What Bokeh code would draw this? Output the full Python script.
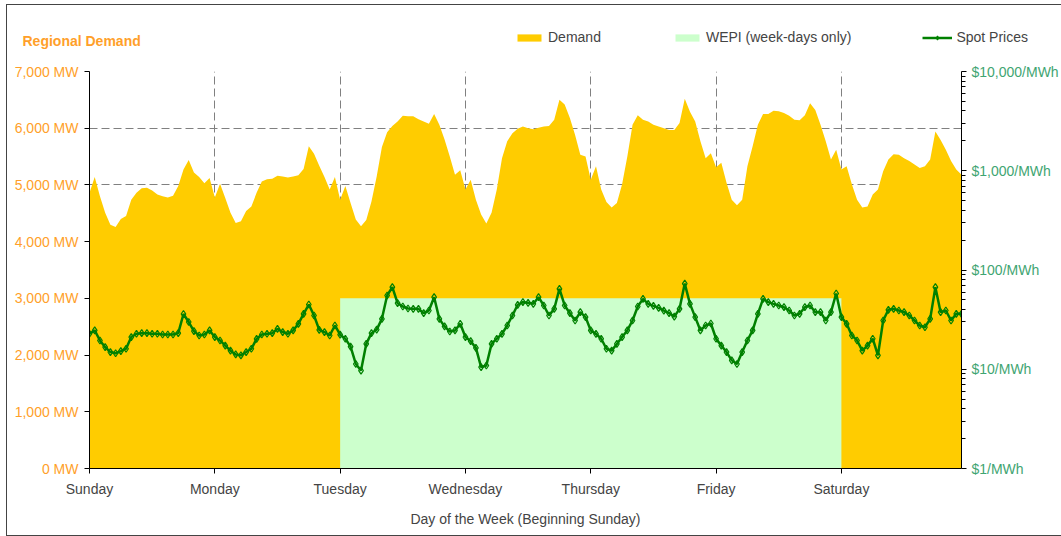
import numpy as np
from bokeh.plotting import figure
from bokeh.layouts import column
from bokeh.models import (Range1d, LogScale, LogAxis, FixedTicker, Legend, LegendItem, Label,
                          ColumnDataSource)
from bokeh.embed import file_html
from bokeh.resources import INLINE

# ---------------- data (hourly readings) ----------------
day_names = ["Sunday", "Monday", "Tuesday", "Wednesday", "Thursday", "Friday", "Saturday"]

demand_sun = [4860, 5140, 4800, 4510, 4300, 4260, 4400, 4450, 4740, 4860, 4940, 4950,
              4900, 4830, 4800, 4780, 4810, 4980, 5270, 5440, 5220, 5140, 5030, 5120]
demand_mon = [4780, 5020, 4770, 4510, 4330, 4360, 4540, 4620, 4860, 5060, 5100, 5110,
              5160, 5150, 5130, 5150, 5170, 5280, 5680, 5550, 5340, 5140, 4920, 5140]
demand_tue = [4740, 4980, 4680, 4390, 4270, 4380, 4710, 5150, 5670, 5930, 6040, 6120,
              6220, 6210, 6210, 6160, 6120, 6080, 6250, 6060, 5800, 5500, 5180, 5260]
demand_wed = [4920, 5090, 4740, 4480, 4320, 4510, 4920, 5470, 5770, 5910, 5990, 6030,
              6000, 5980, 6010, 6030, 6040, 6150, 6500, 6420, 6180, 5880, 5530, 5500]
demand_thu = [5090, 5330, 4920, 4700, 4600, 4680, 5010, 5500, 6060, 6230, 6150, 6120,
              6060, 6030, 6000, 5970, 5970, 6090, 6520, 6290, 6120, 5770, 5470, 5560]
demand_fri = [5310, 5390, 5040, 4740, 4640, 4740, 5330, 5680, 6060, 6250, 6250, 6310,
              6300, 6270, 6220, 6150, 6140, 6230, 6440, 6320, 6060, 5770, 5450, 5620]
demand_sat = [5270, 5330, 5010, 4740, 4600, 4620, 4830, 4920, 5240, 5450, 5540, 5530,
              5470, 5420, 5360, 5300, 5330, 5450, 5940, 5790, 5620, 5420, 5270, 5180]

price_sun = [22.8, 24.6, 19.5, 16.7, 14.9, 14.5, 15.2, 16.1, 21.1, 22.8, 23.1, 23.1,
             22.8, 22.8, 22.4, 22.4, 22.4, 23.1, 36.0, 29.9, 24.2, 21.9, 22.4, 24.6]
price_mon = [21.1, 19.5, 17.3, 15.4, 14.1, 13.8, 14.9, 16.1, 20.2, 22.4, 22.8, 23.1,
             25.5, 23.7, 22.8, 24.6, 28.7, 36.2, 44.9, 34.8, 24.9, 23.7, 21.9, 27.6]
price_tue = [22.3, 20.3, 16.9, 11.3, 9.7, 18.0, 23.1, 25.1, 32.2, 55.3, 67.1, 46.3,
             42.9, 40.9, 40.6, 40.6, 36.7, 39.1, 53.2, 32.2, 27.0, 24.0, 24.6, 28.7]
price_wed = [21.1, 19.2, 16.4, 10.5, 10.9, 18.0, 20.3, 22.7, 27.6, 34.8, 44.6, 47.4,
             46.7, 45.6, 53.2, 43.9, 34.8, 40.6, 64.6, 43.9, 36.7, 31.0, 37.6, 33.5]
price_thu = [24.6, 22.7, 20.3, 16.1, 15.4, 18.0, 21.1, 24.6, 31.0, 42.9, 51.2, 45.6,
             43.5, 41.5, 39.0, 36.8, 33.9, 40.6, 73.0, 45.6, 33.5, 24.6, 27.6, 28.9]
price_fri = [20.3, 17.3, 14.9, 12.3, 11.3, 14.9, 19.5, 24.6, 36.2, 51.2, 47.4, 45.6,
             43.9, 42.2, 39.1, 34.8, 36.2, 42.2, 43.9, 37.6, 37.6, 31.0, 37.6, 58.0]
price_sat = [33.5, 28.7, 21.9, 19.5, 15.4, 17.3, 20.3, 13.8, 31.0, 39.7, 40.6, 39.1,
             37.6, 34.8, 31.0, 27.6, 26.5, 32.2, 67.1, 37.6, 39.1, 31.0, 36.2, 36.2]

wepi_start_day = [2]
wepi_end_day = [6]
wepi_mw = [3000]

mw_ticks = [0, 1000, 2000, 3000, 4000, 5000, 6000, 7000]
mw_labels = ["0 MW", "1,000 MW", "2,000 MW", "3,000 MW", "4,000 MW", "5,000 MW", "6,000 MW", "7,000 MW"]
price_ticks = [1, 10, 100, 1000, 10000]
price_labels = ["$1/MWh", "$10/MWh", "$100/MWh", "$1,000/MWh", "$10,000/MWh"]

# ---------------- assemble ----------------
demand = demand_sun + demand_mon + demand_tue + demand_wed + demand_thu + demand_fri + demand_sat
prices = price_sun + price_mon + price_tue + price_wed + price_thu + price_fri + price_sat
day_pos = [h / 24 for h in range(len(demand))]

src = ColumnDataSource(dict(x=day_pos, demand=demand, price=prices))
wepi_src = ColumnDataSource(dict(left=wepi_start_day, right=wepi_end_day, top=wepi_mw))

FONT = "Liberation Sans"
ORANGE = "#FF9F2A"
GREEN_TXT = "#3FA572"
DEMAND_FILL = "#FFCC00"
WEPI_FILL = "#CCFFCC"
PRICE_COLOR = "#008000"

W = 1054

# ---------------- main chart ----------------
p = figure(width=W, height=480, output_backend="svg", toolbar_location=None,
           x_range=Range1d(0, day_pos[-1]), y_range=Range1d(0, 7000),
           min_border_left=82, min_border_right=98, min_border_top=16, min_border_bottom=67,
           outline_line_color=None, background_fill_color="white", frame_align=False)

p.extra_y_ranges = {"price": Range1d(1, 10000)}
p.extra_y_scales = {"price": LogScale()}

p.varea(x="x", y1=0, y2="demand", source=src, fill_color=DEMAND_FILL)
p.quad(left="left", right="right", bottom=0, top="top", source=wepi_src,
       fill_color=WEPI_FILL, line_color=None)
p.line(x="x", y="price", source=src, y_range_name="price", line_color=PRICE_COLOR, line_width=2.5)
p.scatter(x="x", y="price", source=src, y_range_name="price", marker="diamond", size=7,
          line_color=PRICE_COLOR, line_width=1.2, fill_color=None)

# x axis
xa = p.xaxis[0]
xa.ticker = FixedTicker(ticks=list(range(len(day_names))))
xa.major_label_overrides = {i: d for i, d in enumerate(day_names)}
xa.axis_label = "Day of the Week (Beginning Sunday)"
xa.axis_label_text_font = FONT
xa.axis_label_text_font_style = "normal"
xa.axis_label_text_font_size = "14px"
xa.axis_label_standoff = 11
xa.major_label_text_font = FONT
xa.major_label_text_font_size = "14px"
xa.major_label_standoff = 7
xa.major_tick_out = 5
xa.major_tick_in = 0
xa.minor_tick_out = 0
xa.axis_line_color = "black"
xa.major_tick_line_color = "black"

# left axis
ya = p.yaxis[0]
ya.ticker = FixedTicker(ticks=mw_ticks)
ya.major_label_overrides = {t: l for t, l in zip(mw_ticks, mw_labels)}
ya.major_label_text_font = FONT
ya.major_label_text_font_size = "14px"
ya.major_label_text_color = ORANGE
ya.major_label_standoff = 6
ya.major_tick_out = 5
ya.major_tick_in = 0
ya.minor_tick_out = 0
ya.axis_line_color = "black"
ya.major_tick_line_color = "black"

# right log axis
minor = [m * d for d in price_ticks[:-1] for m in range(2, 10)]
ra = LogAxis(y_range_name="price", ticker=FixedTicker(ticks=price_ticks, minor_ticks=minor))
ra.major_label_overrides = {t: l for t, l in zip(price_ticks, price_labels)}
ra.major_label_text_font = FONT
ra.major_label_text_font_size = "14px"
ra.major_label_text_color = GREEN_TXT
ra.major_label_standoff = 5
ra.major_tick_out = 5
ra.major_tick_in = 0
ra.minor_tick_out = 4
ra.minor_tick_in = 0
ra.axis_line_color = "black"
ra.major_tick_line_color = "black"
ra.minor_tick_line_color = "black"
p.add_layout(ra, "right")

# grids
p.xgrid.ticker = FixedTicker(ticks=list(range(1, len(day_names))))
p.ygrid.ticker = FixedTicker(ticks=mw_ticks[1:])
for g in (p.xgrid[0], p.ygrid[0]):
    g.grid_line_color = "#808080"
    g.grid_line_dash = "8 4"
    g.grid_line_width = 1

# ---------------- header strip: title + legend ----------------
HDR_H = 50
hdr = figure(width=W, height=HDR_H, output_backend="svg", toolbar_location=None,
             x_range=Range1d(0, W), y_range=Range1d(0, HDR_H),
             x_axis_type=None, y_axis_type=None, frame_align=False,
             min_border_left=0, min_border_right=0, min_border_top=0, min_border_bottom=0,
             outline_line_color=None, background_fill_color="white")
hdr.grid.visible = False

# legend proxies (no visible marks; they only carry the legend styling)
nan1 = np.array([np.nan])
lg_area = hdr.varea(x=nan1, y1=nan1, y2=nan1, fill_color=DEMAND_FILL)
lg_wepi = hdr.quad(left=nan1, right=nan1, bottom=nan1, top=nan1, fill_color=WEPI_FILL, line_color=None)
lg_line = hdr.line(x=nan1, y=nan1, line_color=PRICE_COLOR, line_width=2.5)
lg_pts = hdr.scatter(x=nan1, y=nan1, marker="diamond", size=7, line_color=PRICE_COLOR,
                     line_width=1.2, fill_color=None)

hdr.add_layout(Label(x=15, y=15, text="Regional Demand", text_font=FONT, text_font_style="bold",
                     text_font_size="14px", text_color=ORANGE, text_baseline="middle"))

legend = Legend(items=[LegendItem(label="Demand", renderers=[lg_area]),
                       LegendItem(label="WEPI (week-days only)", renderers=[lg_wepi]),
                       LegendItem(label="Spot Prices", renderers=[lg_line, lg_pts])],
                orientation="horizontal", location=(507, 10), spacing=71,
                glyph_width=30, glyph_height=9, label_height=9, label_standoff=4,
                padding=0, margin=0, border_line_color=None, background_fill_alpha=0,
                label_text_font=FONT, label_text_font_size="14px")
hdr.add_layout(legend)

layout = column(hdr, p, spacing=0,
                styles={"margin-left": "7px", "margin-top": "5px", "outline": "1px solid #444"})

open("out.html", "w").write(file_html(layout, INLINE))
